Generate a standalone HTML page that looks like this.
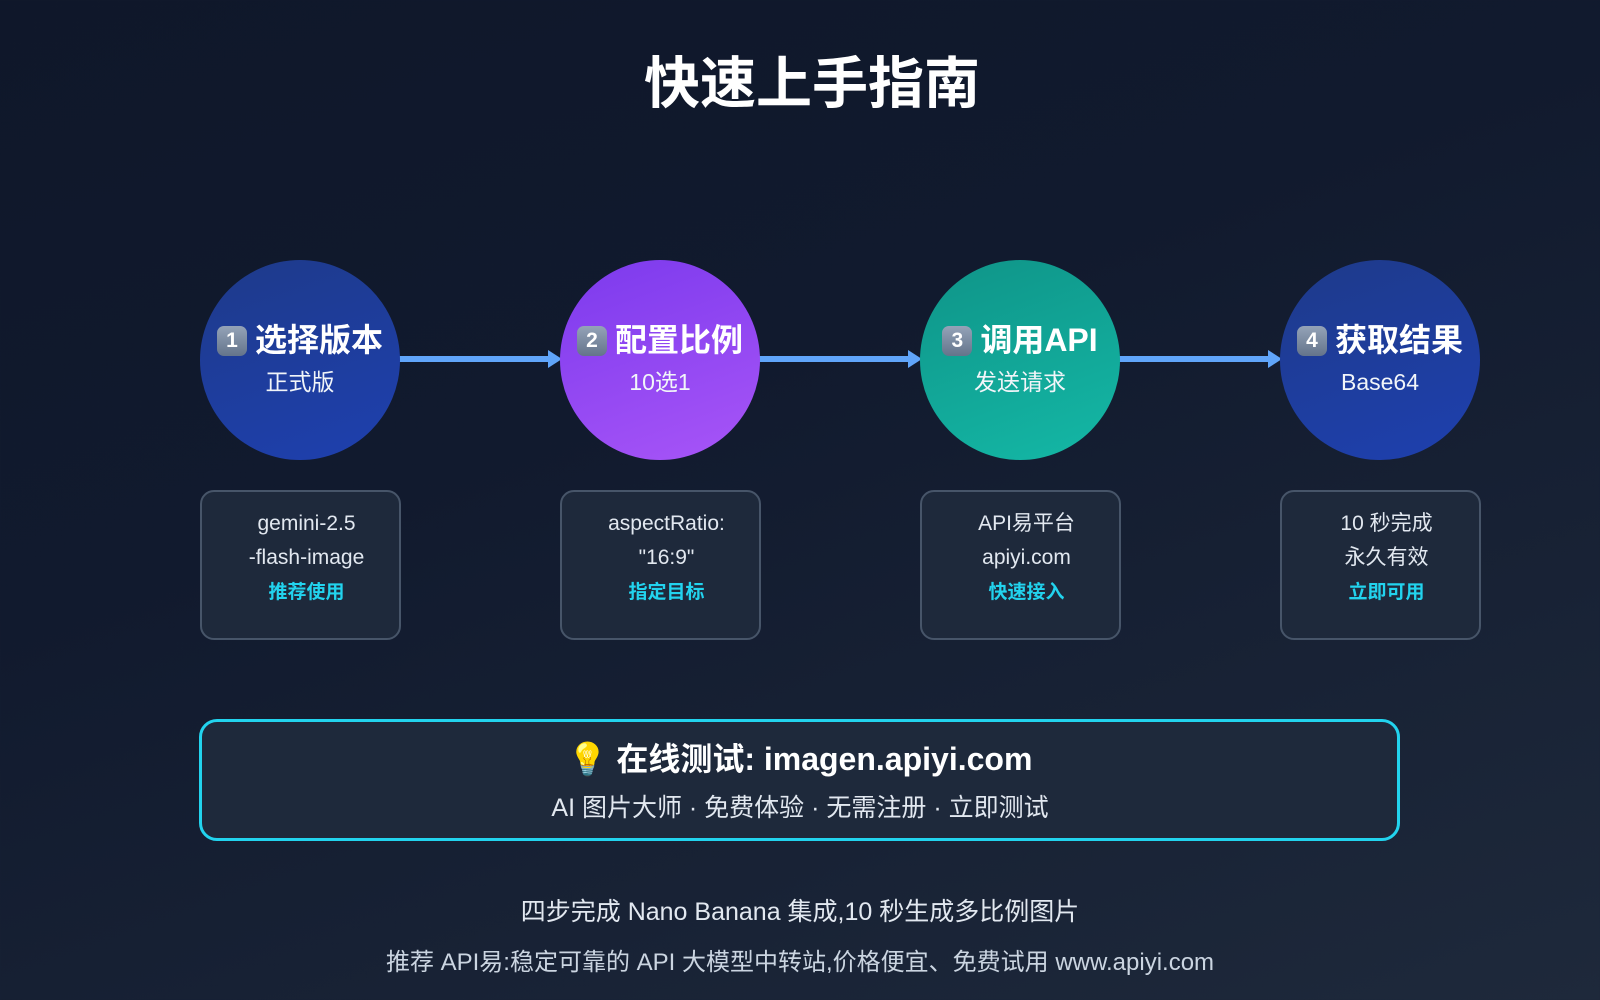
<!DOCTYPE html>
<html><head><meta charset="utf-8"><style>
body{margin:0;width:1600px;height:1000px;overflow:hidden;background:linear-gradient(160deg,#0f172a 0%,#111a2e 40%,#1e293b 100%);font-family:"Liberation Sans","Noto Sans CJK SC",sans-serif;color:#fff;position:relative;line-height:1.2}
.a{position:absolute}
.t{left:0;width:1600px;text-align:center}
.c{width:200px;height:200px;border-radius:50%;text-align:center}
.c .h{position:absolute;width:100%;top:61px;font-size:32px;font-weight:bold;white-space:nowrap;left:0}
.c .s{position:absolute;top:109px;width:100%;font-size:23px;color:#f1f5f9}
.n{display:inline-block;width:30px;height:30px;border-radius:7px;background:linear-gradient(#94a3b8,#64748b);font-size:21px;line-height:30px;vertical-align:4px;margin-right:8px;color:#fff}
.b{width:201px;height:150px;border:2px solid #475569;border-radius:14px;background:#1e293b;text-align:center;font-size:21px;color:#e2e8f0;box-sizing:border-box}
.b div{position:absolute;width:100%;left:6px}
.cy{color:#22d3ee;font-weight:bold;font-size:19px}
.ar{height:6px;background:#60a5fa;top:356px}
.ah{width:0;height:0;border-left:14px solid #60a5fa;border-top:9px solid transparent;border-bottom:9px solid transparent;top:350px}
</style></head><body>
<div class="a t" style="top:50px;left:12px;font-size:56px;font-weight:bold">快速上手指南</div>

<div class="a ar" style="left:398px;width:150px"></div><div class="a ah" style="left:548px"></div>
<div class="a ar" style="left:758px;width:150px"></div><div class="a ah" style="left:908px"></div>
<div class="a ar" style="left:1118px;width:150px"></div><div class="a ah" style="left:1268px"></div>

<div class="a c" style="left:200px;top:260px;background:linear-gradient(160deg,#1e3a8a,#1e40af)"><div class="h"><span class="n">1</span>选择版本</div><div class="s">正式版</div></div>
<div class="a c" style="left:560px;top:260px;background:linear-gradient(160deg,#7c3aed,#a855f7)"><div class="h"><span class="n">2</span>配置比例</div><div class="s">10选1</div></div>
<div class="a c" style="left:920px;top:260px;background:linear-gradient(160deg,#0f9488,#14b8a6)"><div class="h"><span class="n">3</span>调用API</div><div class="s">发送请求</div></div>
<div class="a c" style="left:1280px;top:260px;background:linear-gradient(160deg,#1e3a8a,#1e40af)"><div class="h"><span class="n">4</span>获取结果</div><div class="s">Base64</div></div>

<div class="a b" style="left:200px;top:490px"><div style="top:19px">gemini-2.5</div><div style="top:53px">-flash-image</div><div class="cy" style="top:90px">推荐使用</div></div>
<div class="a b" style="left:560px;top:490px"><div style="top:19px">aspectRatio:</div><div style="top:53px">"16:9"</div><div class="cy" style="top:90px">指定目标</div></div>
<div class="a b" style="left:920px;top:490px"><div style="top:19px">API易平台</div><div style="top:53px">apiyi.com</div><div class="cy" style="top:90px">快速接入</div></div>
<div class="a b" style="left:1280px;top:490px"><div style="top:19px">10 秒完成</div><div style="top:53px">永久有效</div><div class="cy" style="top:90px">立即可用</div></div>

<div class="a" style="left:199px;top:719px;width:1201px;height:122px;box-sizing:border-box;border:3px solid #22d3ee;border-radius:18px;background:#1e293b"></div>
<div class="a t" style="top:740px;font-size:32px;font-weight:bold">💡 在线测试: imagen.apiyi.com</div>
<div class="a t" style="top:793px;font-size:25px;color:#e2e8f0">AI 图片大师 · 免费体验 · 无需注册 · 立即测试</div>

<div class="a t" style="top:897px;font-size:25px;color:#e2e8f0">四步完成 Nano Banana 集成,10 秒生成多比例图片</div>
<div class="a t" style="top:949px;font-size:24px;color:#cbd5e1">推荐 API易:稳定可靠的 API 大模型中转站,价格便宜、免费试用 www.apiyi.com</div>
</body></html>
